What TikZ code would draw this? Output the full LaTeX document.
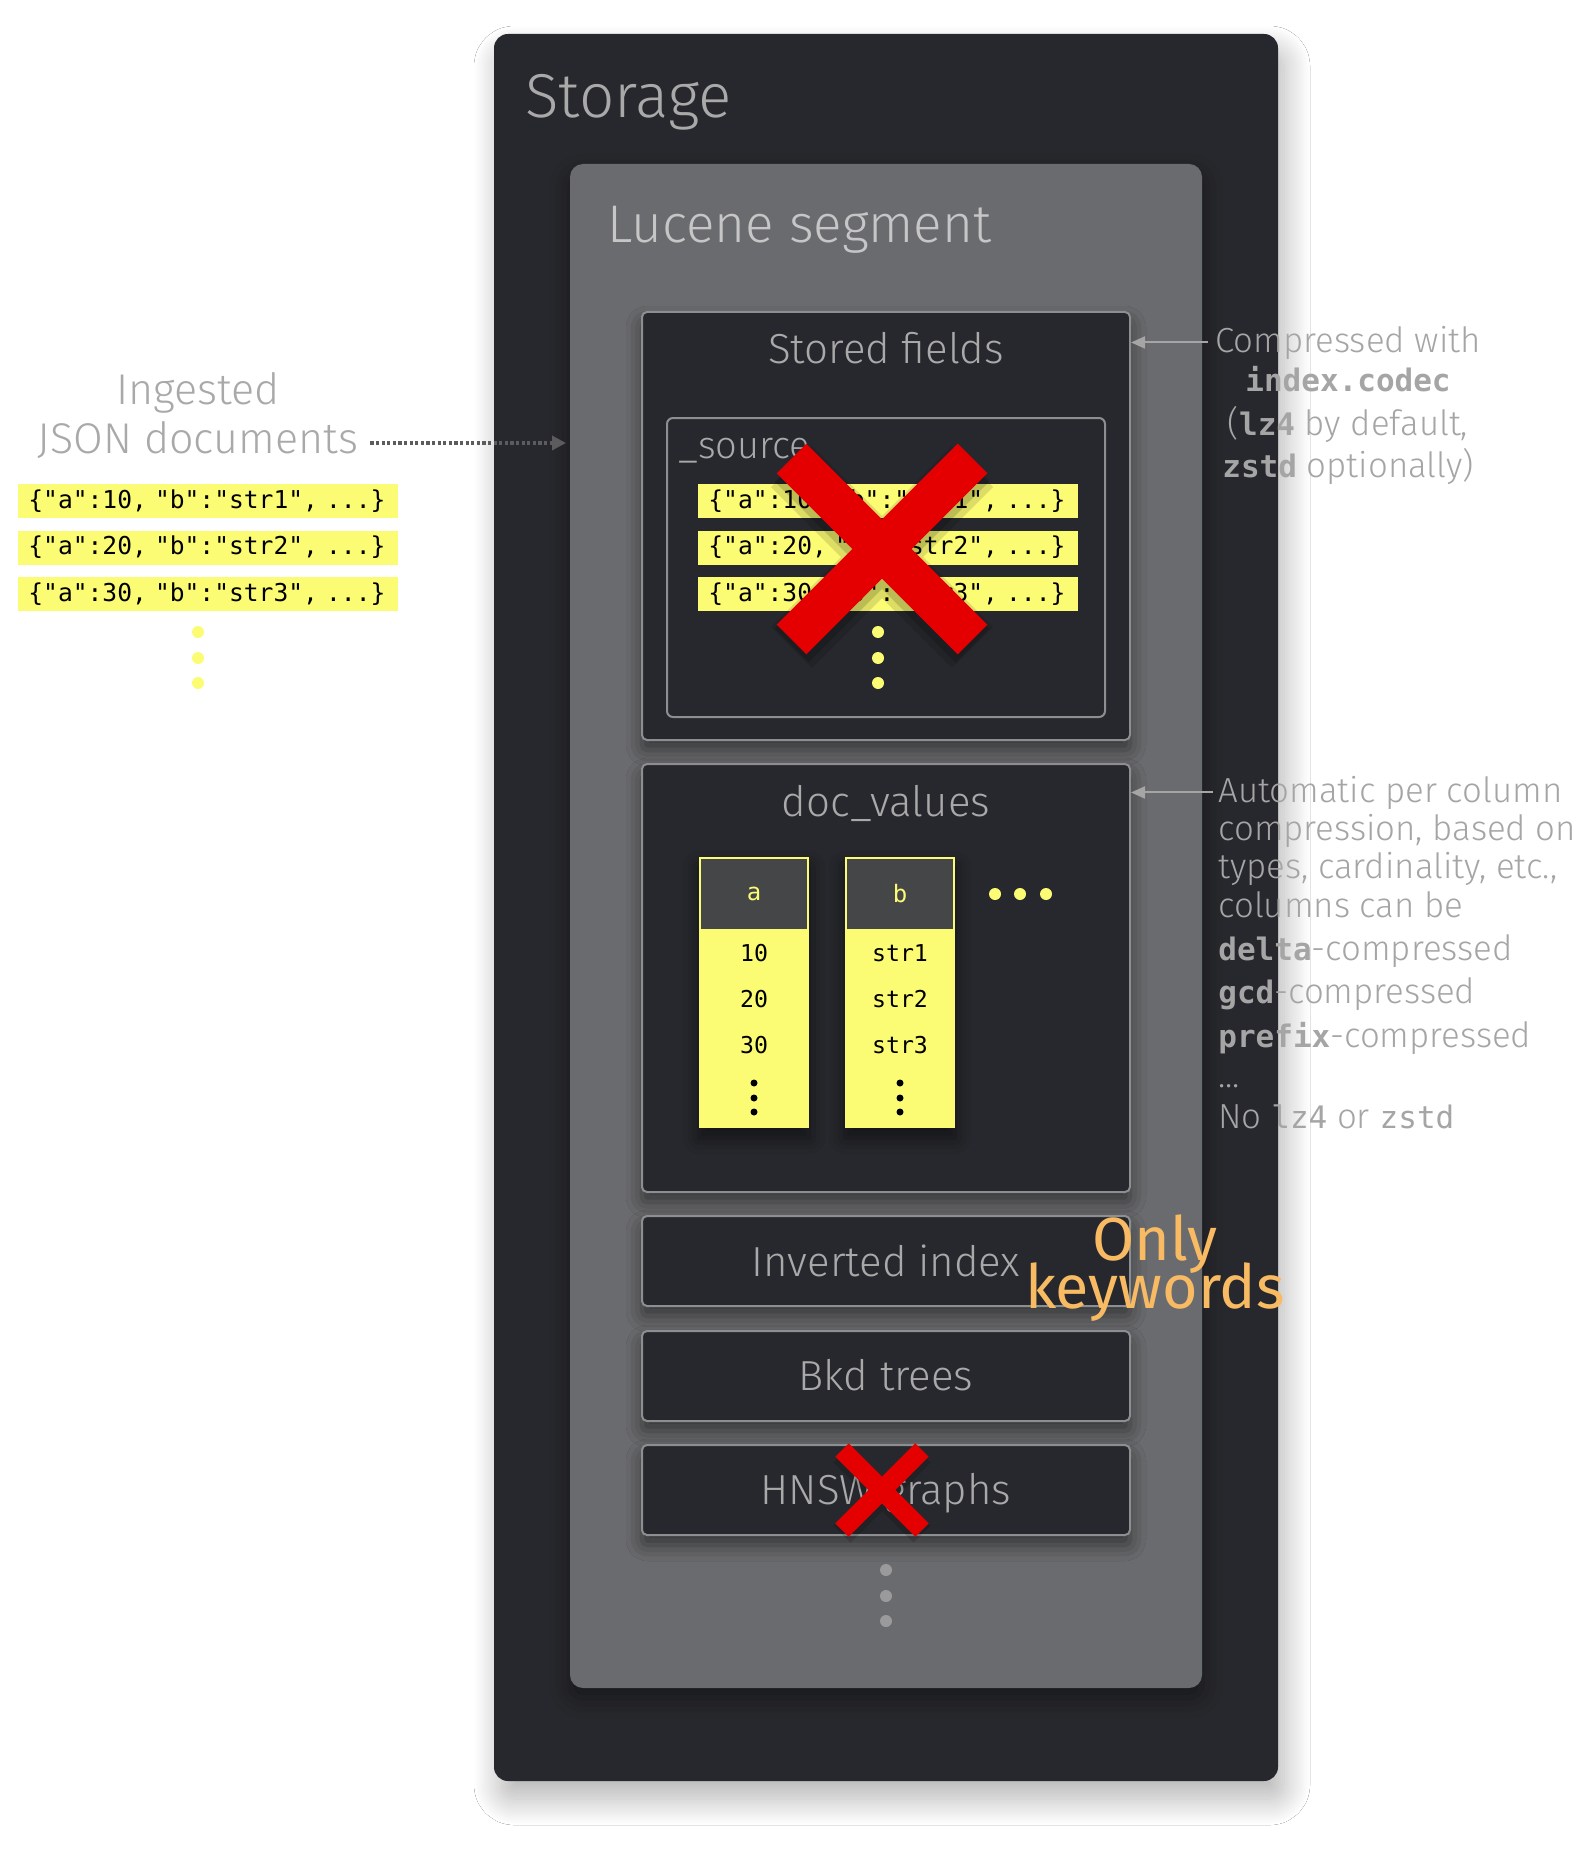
\documentclass[tikz,border=0pt]{standalone}
\usepackage{fontspec}
\setmainfont{Fira Sans Light}
\newfontfamily\kwfont{Fira Sans}
\setmonofont{DejaVu Sans Mono}
\usetikzlibrary{positioning,arrows.meta,shadows.blur}

\definecolor{storebg}{HTML}{27282D}
\definecolor{segbg}{HTML}{6A6B6E}
\definecolor{boxedge}{HTML}{8D8E90}
\definecolor{lblgray}{HTML}{A9A9AA}
\definecolor{seglbl}{HTML}{C6C6C7}
\definecolor{notegray}{HTML}{A5A5A5}
\definecolor{docyellow}{HTML}{FCFC74}
\definecolor{hdrgray}{HTML}{454648}
\definecolor{kwgold}{HTML}{F8BB63}
\definecolor{crossred}{HTML}{E40000}
\definecolor{dotgray}{HTML}{9A9A9C}
\definecolor{dotarrcol}{HTML}{5C5C5E}

\newcommand\cmono[1]{{\ttfamily\bfseries\fontsize{15.5}{21}\selectfont #1}}
\newcommand\cmonolt[1]{{\ttfamily\fontsize{15.5}{21}\selectfont #1}}

\begin{document}
\begin{tikzpicture}[x=0.5pt,y=-0.5pt,
    partbox/.style={draw=boxedge,line width=1pt,fill=storebg,rounded corners=2.5pt,minimum width=244pt,
      blur shadow={shadow xshift=0pt,shadow yshift=-5pt,shadow blur radius=8pt,shadow opacity=50}},
    parttitle/.style={inner sep=0,text=lblgray,anchor=base,font=\fontsize{21}{25}\selectfont},
    jsonrow/.style={fill=docyellow,inner xsep=5pt,inner ysep=0pt,text width=180pt,align=left,
      minimum height=17pt,anchor=west,font=\ttfamily\fontsize{12.3}{14}\selectfont},
    colbody/.style={fill=docyellow,minimum width=55pt,minimum height=135.5pt,
      blur shadow={shadow xshift=0pt,shadow yshift=-5pt,shadow blur radius=8pt,shadow opacity=50}},
    colhead/.style={fill=hdrgray,draw=docyellow,line width=1pt,minimum width=54pt,minimum height=36pt,
      text=docyellow,font=\ttfamily\fontsize{12}{14}\selectfont},
    cellval/.style={inner sep=0,font=\ttfamily\fontsize{11.6}{14}\selectfont},
    note/.style={inner sep=0,text=notegray,font=\fontsize{17.4}{21}\selectfont},
    inglbl/.style={inner sep=0,text=lblgray,anchor=base,font=\fontsize{21.5}{26}\selectfont},
    kwtext/.style={inner sep=0,text=kwgold,anchor=base,font=\kwfont\fontsize{30.5}{36}\selectfont},
    notearrow/.style={draw=notegray,line width=1pt,-{Triangle[length=7pt,width=6pt]}},
    dotarrow/.style={draw=dotarrcol,line width=1.7pt,dash pattern=on 1.6pt off 1.2pt,
      -{Triangle[length=7pt,width=7pt]}}]
    \fill[white] (0,0) rectangle (1593,1856);
    \useasboundingbox (0,0) rectangle (1593,1856);

    \node[fill=storebg,rounded corners=7pt,minimum width=392pt,minimum height=873.5pt,
      blur shadow={shadow xshift=3pt,shadow yshift=-9pt,shadow blur radius=13pt,shadow blur steps=24,shadow opacity=30}]
      (store) at (886,907.5) {};
    \node[inner sep=0,anchor=base west,text=lblgray,font=\fontsize{31}{36}\selectfont] (storelbl) at (525,118) {Storage};
    \node[fill=segbg,rounded corners=6.5pt,minimum width=316pt,minimum height=762pt,
      blur shadow={shadow xshift=0pt,shadow yshift=-5pt,shadow blur radius=10pt,shadow opacity=40}]
      (seg) at (886,926) {};
    \node[inner sep=0,anchor=base west,text=seglbl,font=\fontsize{26.5}{32}\selectfont] (seglbl) at (607,243) {Lucene segment};

    \node[partbox,minimum height=214pt] (sf) at (886,526) {};
    \node[parttitle] (sflbl) at (886,364) {Stored fields};
    \node[draw=boxedge,line width=1pt,rounded corners=3pt,minimum width=219pt,minimum height=149.5pt] (src) at (886,567.5) {};
    \node[inner sep=0,anchor=base west,text=lblgray,font=\fontsize{19}{23}\selectfont] (srclbl) at (678,458) {\_source};
    \foreach \v [count=\i] in {10,20,30}
      \node[jsonrow] (src\i) at (698,{454.5+46.5*\i}) {\{"a":\v, "b":"str\i", ...\}};
    \foreach \y in {632,658,683}
      \fill[docyellow] (878,\y) circle (3pt);
    \draw[black,opacity=0.12,line width=29pt] (791.5,466.5) -- (972.5,647.5) (972.5,466.5) -- (791.5,647.5);
    \draw[black,opacity=0.15,line width=24pt] (791.5,464.5) -- (972.5,645.5) (972.5,464.5) -- (791.5,645.5);
    \draw[crossred,line width=21pt] (791.5,458.5) -- (972.5,639.5) (972.5,458.5) -- (791.5,639.5);

    \node[partbox,minimum height=214pt] (dv) at (886,978) {};
    \node[parttitle] (dvlbl) at (886,816) {doc\_values};
    \node[colbody] (cola) at (754,992.5) {};
    \node[colhead] (heada) at (754,893.5) {a};
    \node[colbody] (colb) at (900,992.5) {};
    \node[colhead] (headb) at (900,893.5) {b};
    \foreach \v [count=\i] in {10,20,30}
      \node[cellval] (a\i) at (754,{907+46*\i}) {\v};
    \foreach \v [count=\i] in {str1,str2,str3}
      \node[cellval] (b\i) at (900,{907+46*\i}) {\v};
    \foreach \y in {1083,1098,1112} {
      \fill (754,\y) circle (1.75pt);
      \fill (900,\y) circle (1.75pt);
    }
    \foreach \x in {995,1020,1046}
      \fill[docyellow] (\x,894) circle (3pt);

    \node[partbox,minimum height=45pt] (inv) at (886,1261) {};
    \node[parttitle] (invlbl) at (886,1276) {Inverted index};
    \node[partbox,minimum height=45pt] (bkd) at (886,1376) {};
    \node[parttitle] (bkdlbl) at (886,1390) {Bkd trees};
    \node[partbox,minimum height=45pt] (hnsw) at (886,1490) {};
    \node[parttitle] (hnswlbl) at (886,1504) {HNSW graphs};
    \draw[black,opacity=0.15,line width=12pt] (842,1454) -- (922,1534) (922,1454) -- (842,1534);
    \draw[crossred,line width=9.5pt] (842,1450) -- (922,1530) (922,1450) -- (842,1530);
    \foreach \y in {1570,1596,1621}
      \fill[dotgray] (886,\y) circle (3pt);

    \node[kwtext] (only) at (1155,1260) {Only};
    \node[kwtext] (kw) at (1155,1308) {keywords};

    \node[inglbl] (ing) at (198,404) {Ingested};
    \node[inglbl] (json) at (198,453) {JSON documents};
    \coordinate (jin) at (566,443);
    \draw[dotarrow] ([xshift=6pt]json.east |- jin) -- (jin);
    \foreach \v [count=\i] in {10,20,30}
      \node[jsonrow] (doc\i) at (18,{454.5+46.5*\i}) {\{"a":\v, "b":"str\i", ...\}};
    \foreach \y in {632,658,683}
      \fill[docyellow] (198,\y) circle (3pt);

    \foreach \y/\nt [count=\i] in {352/{Compressed with},392/{\cmono{index.codec}},
        435/{(\cmono{lz4} by default,},477/{\cmono{zstd} optionally)}}
      \node[note,anchor=base] (c\i) at (1348,\y) {\nt};
    \draw[notearrow] ([xshift=-3.5pt]c1.west) -- (c1.west -| sf.east);

    \foreach \y/\nt [count=\i] in {802/{Automatic per column},840/{compression, based on},
        878/{types, cardinality, etc.,},917/{columns can be},960/{\cmono{delta}-compressed},
        1003/{\cmono{gcd}-compressed},1047/{\cmono{prefix}-compressed},1087/{...},
        1128/{No \cmonolt{lz4} or \cmonolt{zstd}}}
      \node[note,anchor=base west] (d\i) at (1218,\y) {\nt};
    \draw[notearrow] ([xshift=-2.5pt]d1.west) -- (d1.west -| dv.east);
\end{tikzpicture}
\end{document}
